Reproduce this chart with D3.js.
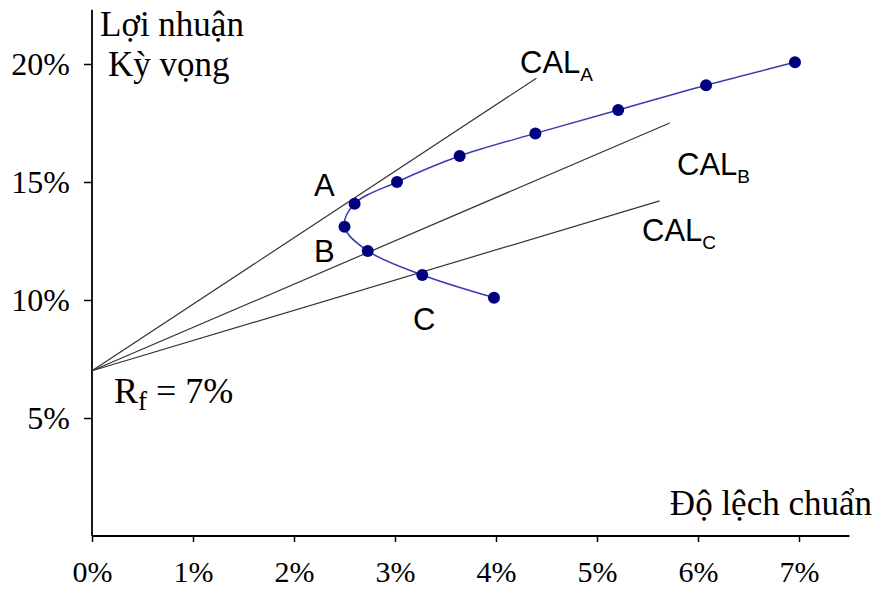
<!DOCTYPE html>
<html>
<head>
<meta charset="utf-8">
<script src="https://cdn.jsdelivr.net/npm/d3@7/dist/d3.min.js"></script>
<style>
  html, body { margin: 0; padding: 0; background: #fff; }
  svg { display: block; }
  .serif { font-family: "Liberation Serif", "Times New Roman", serif; fill: #000; }
  .sans { font-family: "Liberation Sans", Arial, sans-serif; fill: #000; }
</style>
</head>
<body>
<svg id="chart" width="878" height="589"></svg>
<script>
// Efficient frontier: standard deviation (%) vs expected return (%)
const frontierRisk   = [3.98, 3.27, 2.73, 2.50, 2.60, 3.02, 3.64, 4.39, 5.21, 6.08, 6.96];
const frontierReturn = [10.1, 11.06, 12.08, 13.1, 14.08, 15.0, 16.1, 17.06, 18.05, 19.1, 20.07];

// Risk-free rate and the three capital allocation lines (end points)
const riskFree = 7;
const calNames  = ["A", "B", "C"];
const calEndRisk   = [4.40, 5.72, 5.62];
const calEndReturn = [19.4, 17.5, 14.2];

// Portfolio labels A, B, C
const pointNames  = ["A", "B", "C"];
const pointRisk   = [2.30, 2.30, 3.29];
const pointReturn = [14.4, 11.6, 8.73];

const xTicks = [0, 1, 2, 3, 4, 5, 6, 7];
const yTicks = [5, 10, 15, 20];

const svg = d3.select("#chart");

const x = d3.scaleLinear().domain([0, 7]).range([92, 799]);
const y = d3.scaleLinear().domain([0, 20]).range([536, 64]);

// Axes
const xAxis = d3.axisBottom(x).tickValues(xTicks).tickSize(6).tickFormat(d => d + "%");
const gx = svg.append("g").attr("transform", `translate(0,${y(0)})`).call(xAxis);
gx.select(".domain").remove();
gx.selectAll(".tick line").attr("stroke", "#000").attr("stroke-width", 1.5);
gx.selectAll(".tick text")
  .attr("class", "serif")
  .attr("y", 46).attr("dy", 0)
  .style("font-size", "30px");

const yAxis = d3.axisLeft(y).tickValues(yTicks).tickSize(8).tickFormat(d => d + "%");
const gy = svg.append("g").attr("transform", `translate(${x(0)},0)`).call(yAxis);
gy.select(".domain").remove();
gy.selectAll(".tick line").attr("stroke", "#000").attr("stroke-width", 1.5);
gy.selectAll(".tick text")
  .attr("class", "serif")
  .attr("x", -22).attr("dy", "0.33em")
  .style("font-size", "32px");

// Axis lines
svg.append("line")
  .attr("x1", x(0)).attr("x2", x(7.5))
  .attr("y1", y(0)).attr("y2", y(0))
  .attr("stroke", "#000").attr("stroke-width", 1.8);
svg.append("line")
  .attr("x1", x(0)).attr("x2", x(0))
  .attr("y1", y(0)).attr("y2", y(22.3))
  .attr("stroke", "#000").attr("stroke-width", 1.8);

// Capital allocation lines
calNames.forEach((n, i) => {
  svg.append("line")
    .attr("x1", x(0)).attr("y1", y(riskFree))
    .attr("x2", x(calEndRisk[i])).attr("y2", y(calEndReturn[i]))
    .attr("stroke", "#333").attr("stroke-width", 1.2);
});

// Frontier curve
const pts = frontierRisk.map((r, i) => [r, frontierReturn[i]]);
const line = d3.line().x(d => x(d[0])).y(d => y(d[1])).curve(d3.curveCatmullRom.alpha(0.5));
svg.append("path")
  .attr("d", line(pts))
  .attr("fill", "none")
  .attr("stroke", "#3a3ab4")
  .attr("stroke-width", 1.5);
svg.selectAll("circle.pt").data(pts).enter().append("circle")
  .attr("class", "pt")
  .attr("cx", d => x(d[0])).attr("cy", d => y(d[1]))
  .attr("r", 6)
  .attr("fill", "#00007f");

// Axis titles
svg.append("text").attr("class", "serif").attr("x", 100).attr("y", 36)
  .style("font-size", "35px").text("Lợi nhuận");
svg.append("text").attr("class", "serif").attr("x", 108).attr("y", 76)
  .style("font-size", "35px").text("Kỳ vọng");
svg.append("text").attr("class", "serif").attr("x", 872).attr("y", 515)
  .attr("text-anchor", "end")
  .style("font-size", "35px").text("Độ lệch chuẩn");

// Risk-free label
const rf = svg.append("text").attr("class", "serif").attr("x", 114).attr("y", 403)
  .style("font-size", "36px");
rf.append("tspan").text("R");
rf.append("tspan").attr("dy", 7).style("font-size", "27px").text("f");
rf.append("tspan").attr("dy", -7).text(" = " + riskFree + "%");

// CAL labels
const calLabelPos = [[520, 73], [677, 175], [642, 241]];
calNames.forEach((n, i) => {
  const t = svg.append("text").attr("class", "sans")
    .attr("x", calLabelPos[i][0]).attr("y", calLabelPos[i][1])
    .style("font-size", "31px");
  t.append("tspan").text("CAL");
  t.append("tspan").attr("dy", 8).style("font-size", "19px").text(n);
});

// Portfolio labels
pointNames.forEach((n, i) => {
  svg.append("text").attr("class", "sans")
    .attr("x", x(pointRisk[i])).attr("y", y(pointReturn[i]))
    .attr("text-anchor", "middle")
    .style("font-size", "31px").text(n);
});
</script>
</body>
</html>
